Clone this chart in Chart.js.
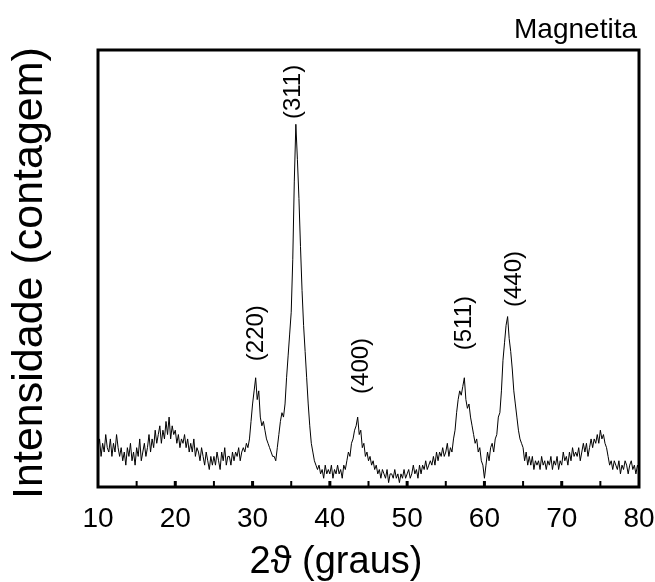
<!DOCTYPE html>
<html>
<head>
<meta charset="utf-8">
<script src="https://cdn.jsdelivr.net/npm/chart.js@4"></script>
<style>
  html, body { margin: 0; padding: 0; background: #fff; }
  #wrap { width: 655px; height: 582px; position: relative; }
</style>
</head>
<body>
<div id="wrap"><canvas id="myChart"></canvas></div>
<script>
// 2theta grid: 10 to 80 deg, step 0.2
const start = 10
const step = 0.2

// intensidade (unidades arbitrarias, 0-100)
const intensity = [
  9, 11, 7, 10, 8,   12, 9, 8, 11, 7,   10, 8, 12, 9, 7,   9, 6, 8, 5, 9,   7, 10, 6, 8, 5,
  9, 7, 11, 6, 8,   10, 7, 9, 12, 8,   11, 9, 13, 10, 12,   14, 10, 13, 11, 15,   12, 16, 11, 14, 12,
  13, 10, 12, 9, 11,   10, 12, 9, 11, 8,   10, 8, 11, 7, 9,   8, 6, 9, 7, 5,   8, 6, 4, 7, 5,
  7, 5, 8, 6, 4,   8, 6, 9, 5, 7,   7, 5, 8, 6, 8,   7, 9, 6, 8, 9,   8, 10, 9, 11, 15,
  19, 22, 25, 20, 22,   16, 14, 15, 13, 11,   10, 9, 8, 7, 7,   6, 9, 12, 15, 17,   16, 19, 25, 30, 35,
  40, 52, 70, 83, 75,   66, 55, 45, 37, 31,   25, 19, 14, 10, 8,   6, 5, 4, 5, 3,   4, 2, 5, 3, 4,
  3, 5, 2, 4, 3,   5, 3, 4, 2, 5,   4, 6, 8, 7, 10,   11, 13, 14, 16, 12,   13, 9, 10, 7, 8,
  6, 7, 5, 6, 4,   5, 3, 4, 2, 4,   3, 2, 4, 1, 3,   3, 2, 4, 2, 3,   1, 3, 2, 4, 2,
  3, 4, 2, 3, 5,   3, 4, 2, 5, 3,   5, 4, 6, 4, 5,   6, 5, 7, 5, 8,   6, 8, 7, 9, 7,
  8, 10, 7, 9, 8,   11, 13, 17, 20, 22,   21, 23, 25, 20, 18,   19, 16, 14, 12, 10,   11, 8, 9, 6, 5,
  2, 5, 8, 6, 9,   10, 8, 11, 12, 16,   17, 22, 29, 33, 37,   39, 34, 31, 27, 22,   19, 16, 13, 11, 10,
  9, 6, 8, 5, 7,   5, 7, 4, 6, 5,   6, 4, 7, 5, 6,   4, 6, 5, 7, 4,   6, 5, 7, 4, 6,
  5, 8, 6, 7, 5,   8, 6, 9, 7, 8,   7, 9, 6, 8, 10,   8, 10, 7, 9, 11,   9, 11, 10, 12, 10,
  13, 11, 12, 10, 9,   7, 5, 6, 4, 6,   5, 4, 6, 3, 5,   4, 6, 5, 3, 5,   6, 4, 5, 3, 5,
  4
]

const twoTheta = intensity.map((_, i) => +(start + i * step).toFixed(1))

const xTicks = [10, 20, 30, 40, 50, 60, 70, 80]
const tickMarks = [15, 20, 25, 30, 35, 40, 45, 50, 55, 60, 65, 70, 75]

// indices de Miller e onde ficam (2theta, intensidade)
const peakNames = ['(220)', '(311)', '(400)', '(511)', '(440)']
const peakX = [30.5, 35.3, 44.1, 57.4, 63.9]
const peakY = [35.2, 90.4, 27.7, 37.5, 47.6]

const font = 'Arial, "Liberation Sans", Helvetica, sans-serif'

const extras = {
  id: 'extras',
  afterDraw(chart){
    const {ctx, chartArea: a, scales: {x, y}} = chart
    ctx.save()
    ctx.strokeStyle = '#000'
    ctx.fillStyle = '#000'

    // ticks para dentro
    tickMarks.forEach(v => {
      const px = x.getPixelForValue(v)
      ctx.lineWidth = v % 10 === 0 ? 3 : 2
      ctx.beginPath()
      ctx.moveTo(px, a.bottom)
      ctx.lineTo(px, a.bottom - 6)
      ctx.stroke()
    })

    // moldura
    ctx.lineWidth = 3
    ctx.strokeRect(a.left, a.top, a.right - a.left, a.bottom - a.top)

    // rotulos dos picos
    ctx.font = '24px ' + font
    ctx.textAlign = 'center'
    ctx.textBaseline = 'middle'
    peakNames.forEach((name, i) => {
      ctx.save()
      ctx.translate(x.getPixelForValue(peakX[i]), y.getPixelForValue(peakY[i]))
      ctx.rotate(-Math.PI / 2)
      ctx.fillText(name, 0, 0)
      ctx.restore()
    })

    // titulos
    ctx.font = '38px ' + font
    ctx.fillText('2ϑ (graus)', 336, 563)

    ctx.save()
    ctx.translate(30, 273)
    ctx.rotate(-Math.PI / 2)
    ctx.font = '43px ' + font
    ctx.fillText('Intensidade (contagem)', 0, 0)
    ctx.restore()

    ctx.font = '28px ' + font
    ctx.textAlign = 'right'
    ctx.fillText('Magnetita', 637, 30)
    ctx.restore()
  }
}

const ctx = document.getElementById('myChart').getContext('2d')
const myChart = new Chart(ctx, {
  type: 'line',
  data: {
    datasets: [{
      label: 'Magnetita',
      data: twoTheta.map((t, i) => ({x: t, y: intensity[i]})),
      borderColor: '#000',
      borderWidth: 1,
      pointRadius: 0,
      tension: 0,
      fill: false
    }]
  },
  options: {
    responsive: true,
    maintainAspectRatio: false,
    animation: false,
    layout: {padding: {left: 98, right: 16, top: 50, bottom: 0}},
    plugins: {legend: {display: false}, tooltip: {enabled: false}},
    scales: {
      x: {
        type: 'linear',
        min: 10,
        max: 80,
        afterBuildTicks: s => { s.ticks = xTicks.map(v => ({value: v})) },
        afterFit: s => {
          s.height = 95
          s.paddingLeft = 0
          s.paddingRight = 0
        },
        grid: {display: false, drawTicks: false},
        border: {display: false},
        ticks: {
          color: '#000',
          font: {family: font, size: 28},
          padding: 15,
          maxRotation: 0,
          autoSkip: false
        }
      },
      y: {
        display: false,
        min: 0,
        max: 100
      }
    }
  },
  plugins: [extras]
})
</script>
</body>
</html>
